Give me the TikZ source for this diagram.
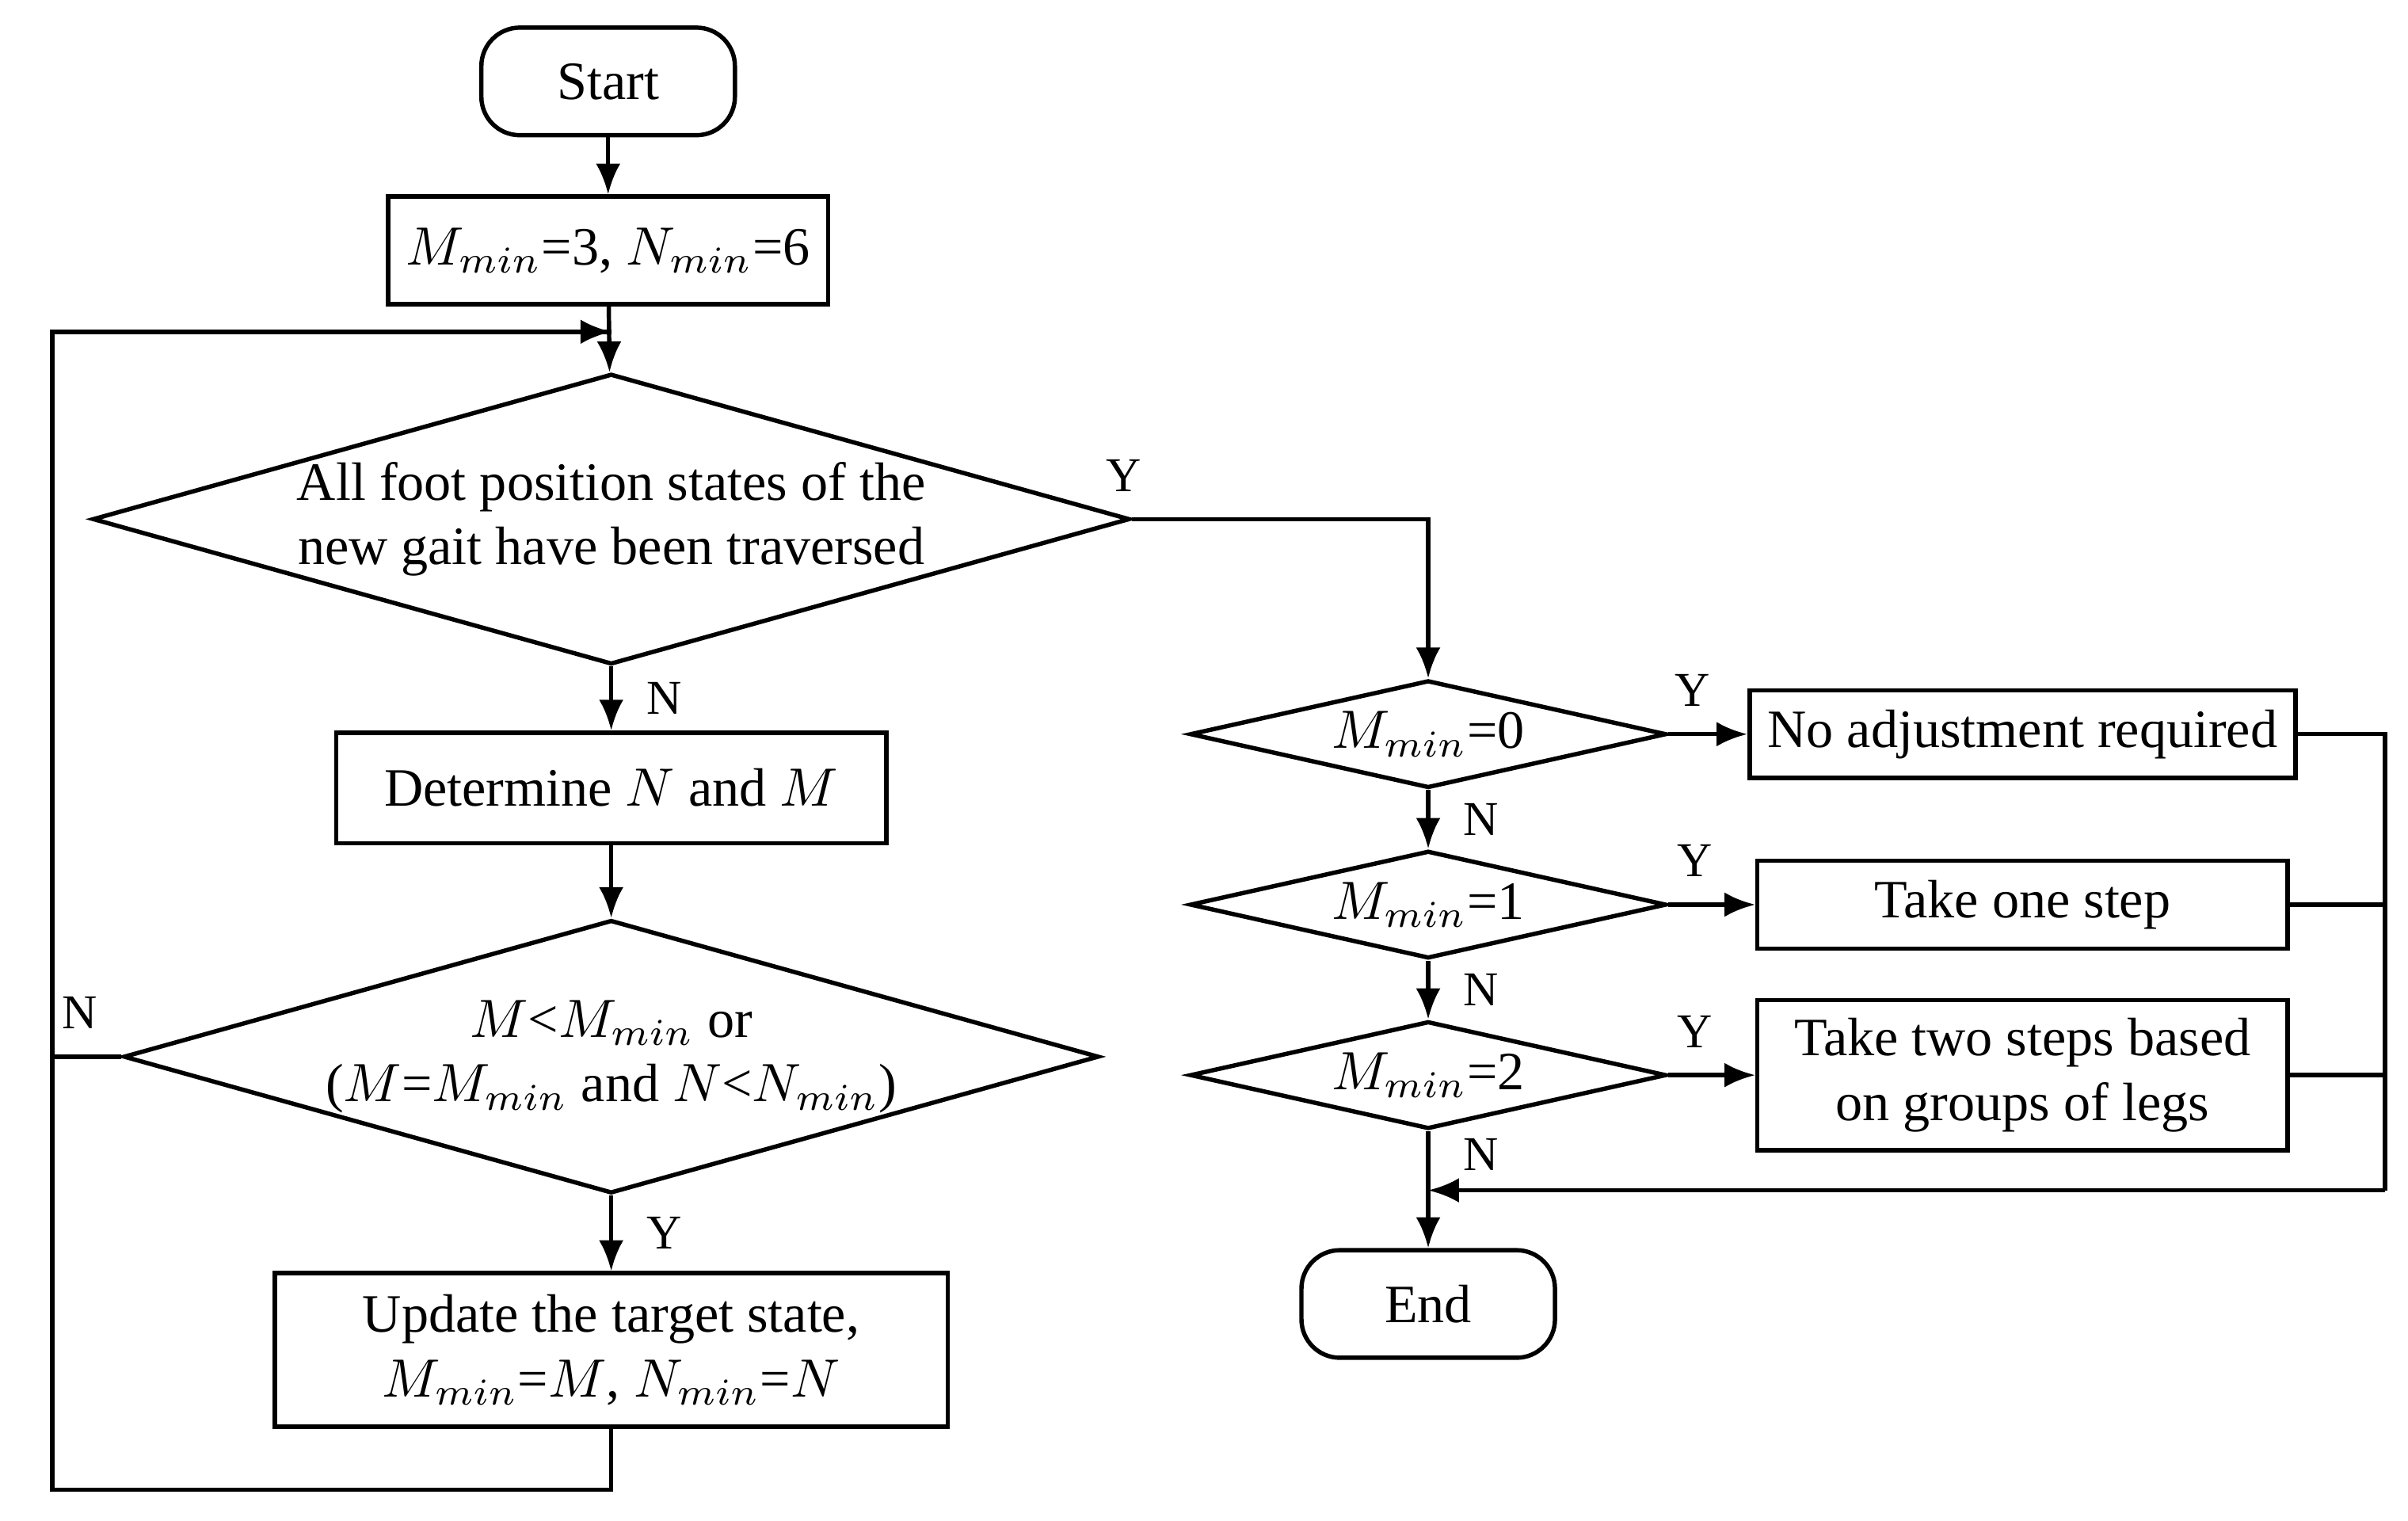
\documentclass[tikz,border=0pt]{standalone}
\usepackage{fontspec}
\setmainfont{Liberation Serif}
\usetikzlibrary{shapes.geometric,arrows.meta,positioning}
\tikzset{
  box/.style={draw, thick, rectangle, minimum height=5.7mm, align=center},
  term/.style={draw, thick, rectangle, rounded corners=2.5mm, minimum width=16.5mm, minimum height=7mm},
  dec/.style={draw, thick, diamond, aspect=3.57, inner sep=0pt, align=center},
  flow/.style={thick, -{Latex[length=2mm,width=1.6mm]}},
  lbl/.style={font=\fontsize{9}{10}\selectfont}
}
\newcommand{\mn}[1]{\ensuremath{#1_{min}}}
\begin{document}
\begin{tikzpicture}[x=0.01cm, y=-0.01cm, font=\fontsize{10}{12}\selectfont]
  \useasboundingbox (0,0) rectangle (1568,990);
  % Main column
  \node[term] (start) at (396,53) {Start};
  \node[box, minimum width=26.9mm, minimum height=7mm] (init) at (396,163) {$M_{min}$=3, $N_{min}$=6};
  \node[dec, minimum width=62.1mm, minimum height=17.4mm] (trav) at (398,338) {All foot position states of the\\new gait have been traversed};
  \node[box, minimum width=35.8mm, minimum height=7.2mm] (det) at (398,513) {Determine $N$ and $M$};
  \node[dec, minimum width=59.2mm, minimum height=17.4mm] (cmp) at (398,688) {$M$<$M_{min}$ or\\($M$=$M_{min}$ and $N$<$N_{min}$)};
  \node[box, minimum width=43.8mm, minimum height=10mm] (upd) at (398,879) {Update the target state,\\$M_{min}$=$M$, $N_{min}$=$N$};
  % Right column
  \node[dec, minimum width=31mm, minimum height=7mm] (m0) at (930,478) {$M_{min}$=0};
  \node[dec, minimum width=31mm, minimum height=7mm] (m1) at (930,589) {$M_{min}$=1};
  \node[dec, minimum width=31mm, minimum height=7mm] (m2) at (930,700) {$M_{min}$=2};
  \node[box, minimum width=34.5mm, minimum height=5.7mm] (noadj) at (1317,478) {No adjustment required};
  \node[box, minimum width=34.5mm, minimum height=5.7mm] (one) at (1317,589) {Take one step};
  \node[box, minimum width=34.5mm, minimum height=9.5mm] (two) at (1317,700) {Take two steps based\\on groups of legs};
  \node[term] (stop) at (930,849) {End};
  % Coordinates for bends
  \coordinate (top) at (398,216);
  \coordinate (ll) at (34,970);
  \coordinate (join) at (930,775);
  \coordinate (rr) at (1553,775);
  % Connectors
  \draw[flow] (start) -- (init);
  \draw[flow] (init) -- (trav);
  \draw[flow] (trav) -- node[lbl, right=1mm] {N} (det);
  \draw[flow] (det) -- (cmp);
  \draw[flow] (cmp) -- node[lbl, right=1mm] {Y} (upd);
  \draw[thick] (upd.south) |- (ll) |- (top);
  \draw[flow] (34,216) -- (top);
  \draw[thick] (cmp.west) -- node[lbl, above=0.5mm, pos=0.6] {N} (34,688);
  \draw[flow] (trav.east) -| node[lbl, above left=0.5mm and 0mm, pos=0.05] {Y} (m0.north);
  \draw[flow] (m0) -- node[lbl, above=0.5mm, pos=0.3] {Y} (noadj);
  \draw[flow] (m1) -- node[lbl, above=0.5mm, pos=0.3] {Y} (one);
  \draw[flow] (m2) -- node[lbl, above=0.5mm, pos=0.3] {Y} (two);
  \draw[flow] (m0) -- node[lbl, right=1mm] {N} (m1);
  \draw[flow] (m1) -- node[lbl, right=1mm] {N} (m2);
  \draw[thick] (m2.south) -- node[lbl, right=1mm, pos=0.4] {N} (join);
  \draw[flow] (join) -- (stop);
  \draw[thick] (noadj.east) -| (rr);
  \draw[thick] (one.east) -- (1553,589);
  \draw[thick] (two.east) -- (1553,700);
  \draw[flow] (rr) -- (join);
\end{tikzpicture}
\end{document}
